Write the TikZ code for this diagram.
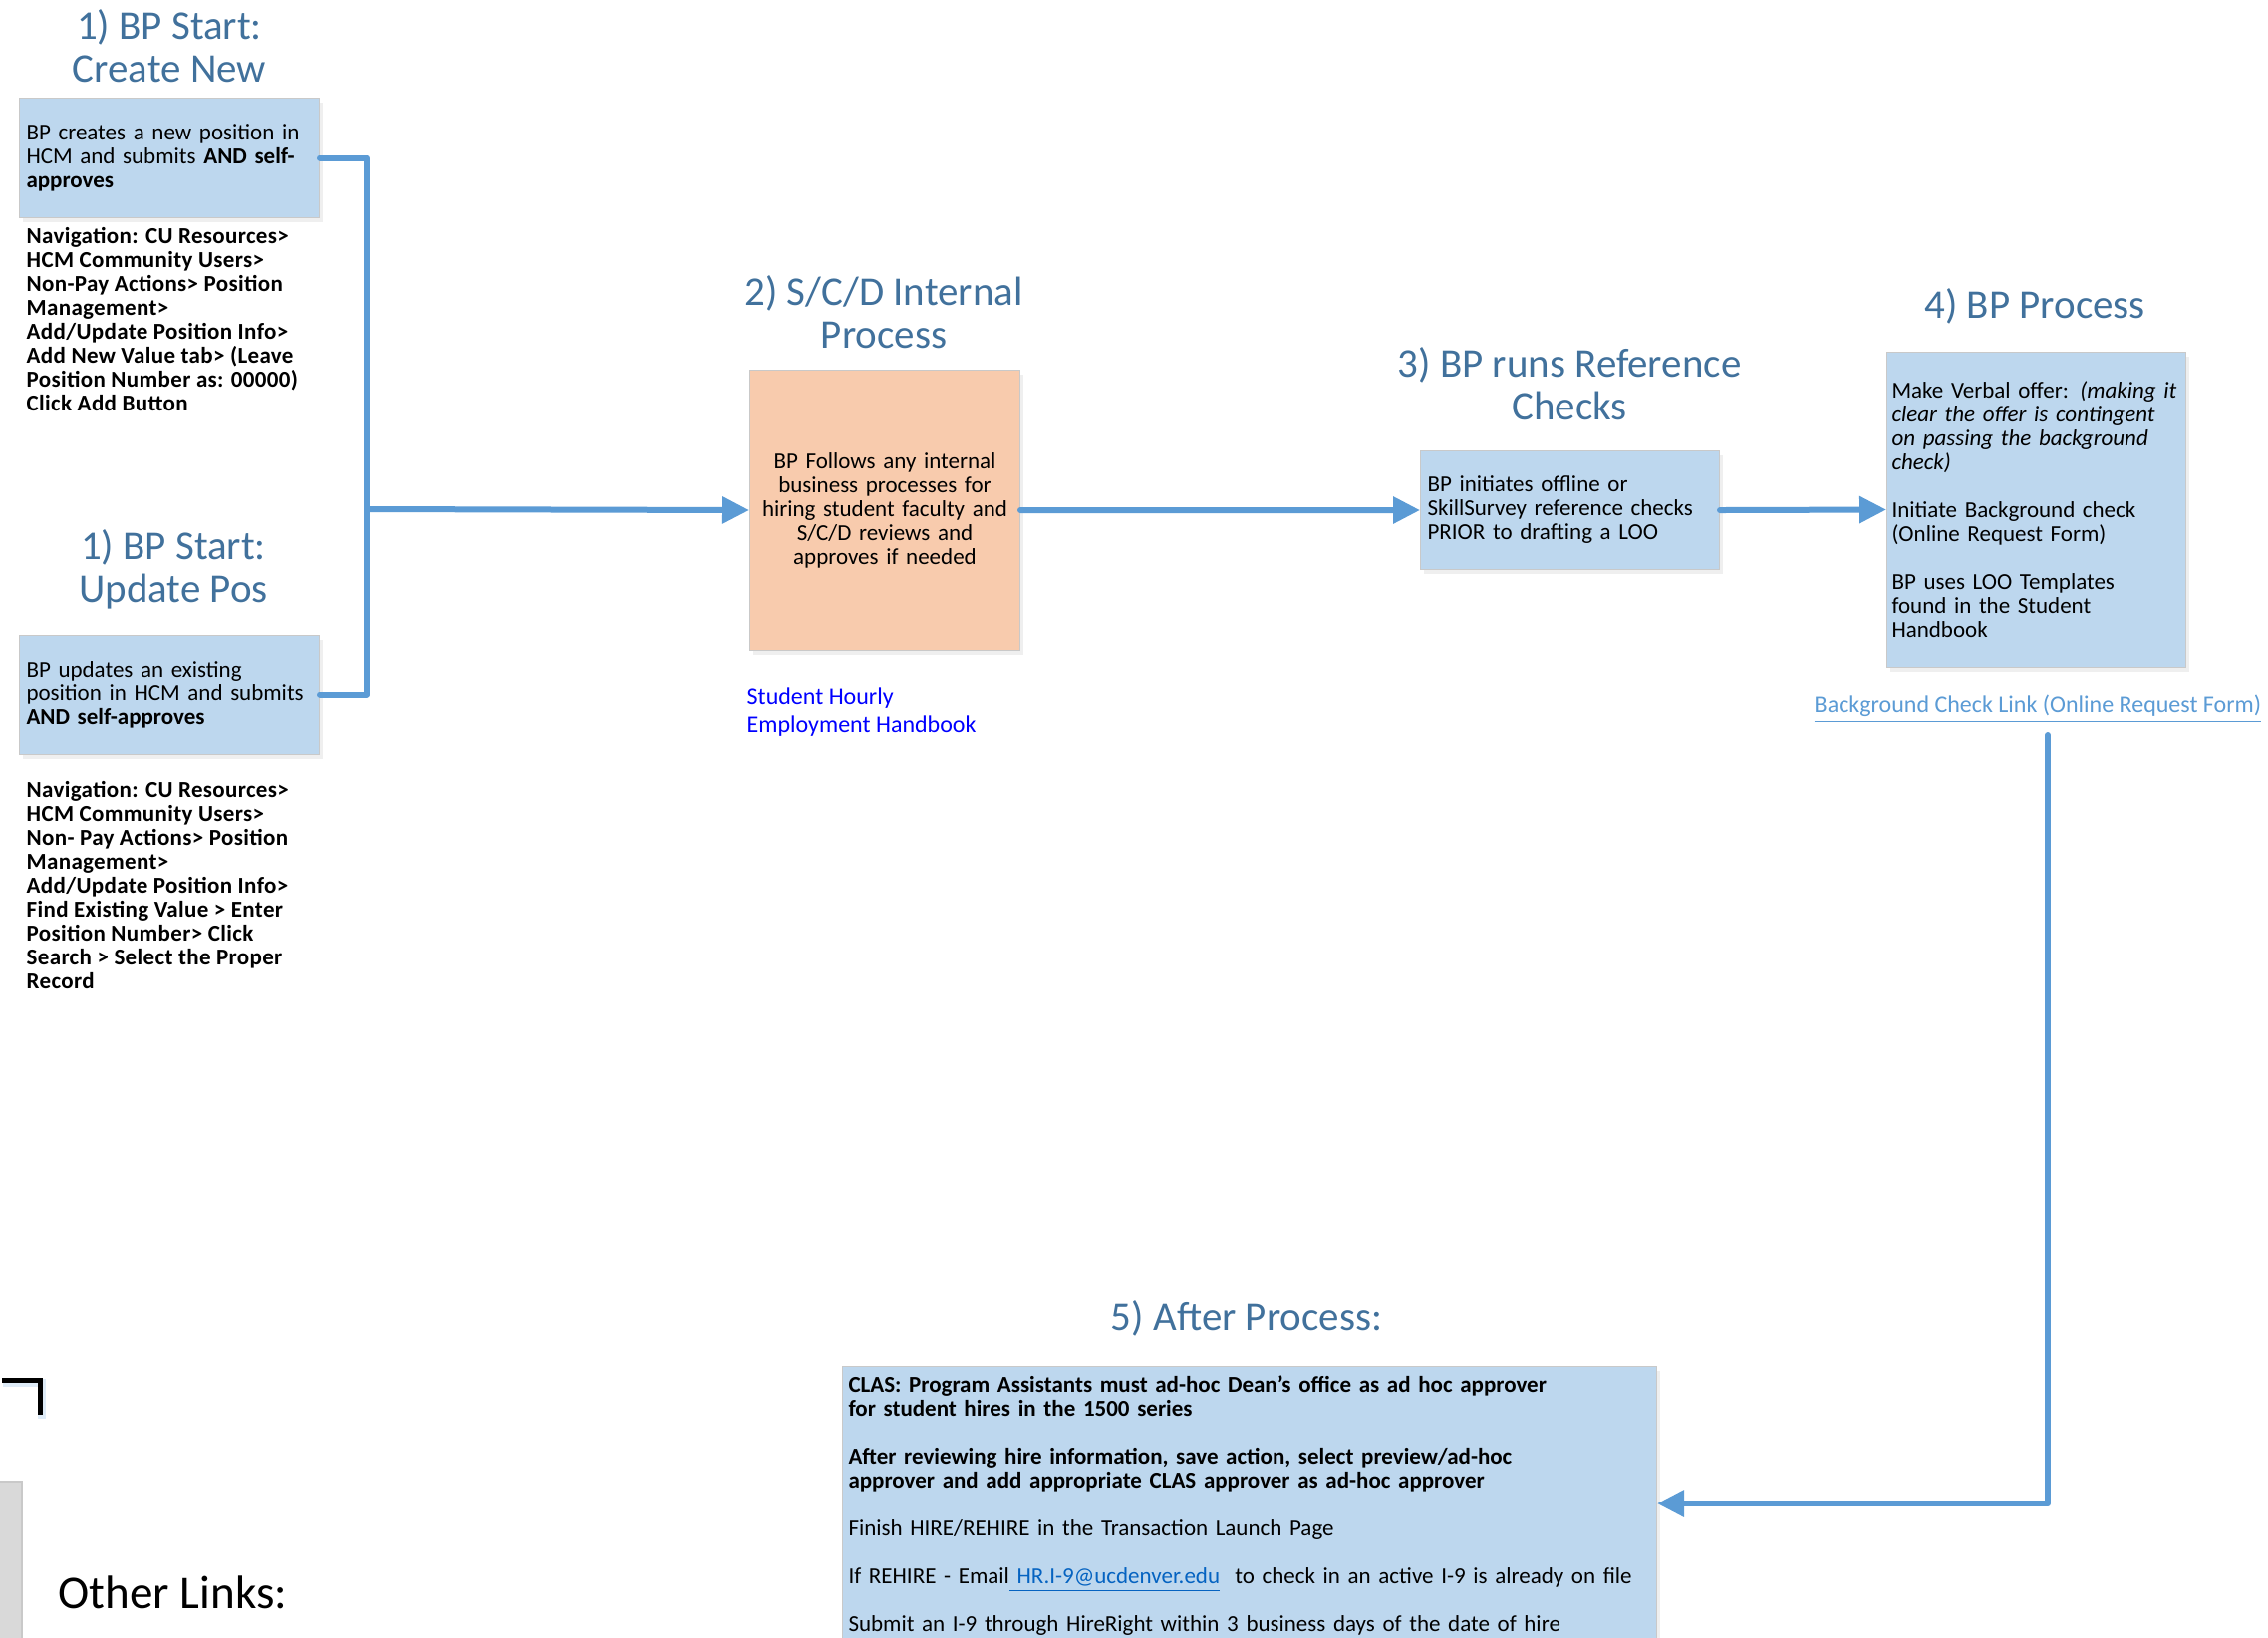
\documentclass[tikz,border=0pt]{standalone}
\usepackage{fontspec}
\setmainfont{Carlito}
\usetikzlibrary{arrows.meta,shadows}

\definecolor{flowblue}{HTML}{5B9BD5}
\definecolor{boxblue}{HTML}{BDD7EE}
\definecolor{boxpeach}{HTML}{F8CBAD}
\definecolor{headblue}{HTML}{41719C}
\definecolor{boxedge}{HTML}{C9C9C9}
\definecolor{maillink}{HTML}{0563C1}
\definecolor{sidegray}{HTML}{D9D9D9}

\newcommand\bodyfont{\fontsize{6.54pt}{6.83pt}\selectfont}
\newcommand\navfont{\bodyfont\bfseries\addfontfeatures{LetterSpace=1.5}}
\newcommand\headfont{\fontsize{11.66pt}{12.23pt}\selectfont}
\newcommand\hourlyfont{\fontsize{6.83pt}{7.97pt}\selectfont}
\newcommand\bglinkfont{\fontsize{6.83pt}{7.97pt}\selectfont}
\newcommand\otherfont{\fontsize{13.4pt}{16pt}\selectfont}

\tikzset{
  head/.style={text=headblue, align=center, font=\headfont, inner sep=0},
  stepbox/.style={draw=boxedge, line width=0.1mm, fill=boxblue, anchor=north west,
    inner sep=0.7mm, align=left, font=\bodyfont,
    drop shadow={shadow xshift=0.3mm, shadow yshift=-0.4mm, opacity=0.12}},
  navtext/.style={anchor=north west, inner sep=0, align=left, font=\navfont},
  conn/.style={draw=flowblue, line width=0.6mm, line cap=round, line join=round},
  arr/.style={conn, -{Triangle[length=2.7mm,width=2.6mm]}}
}

\begin{document}
\begin{tikzpicture}[x=0.1mm,y=-0.1mm]
   \clip (0,0) rectangle (2276,1643);
   \fill[white] (0,0) rectangle (2276,1643);

   \node[head] (head1) at (170,46) {1) BP Start:\\Create New};
   \node[stepbox, text width=28.7mm, minimum height=12mm] (create) at (19,98)
     {BP creates a new position in\\HCM and submits \textbf{AND self-}\\\textbf{approves}};
   \node[navtext] (nav1) at (26,228)
     {Navigation: CU Resources>\\HCM Community Users>\\Non-Pay Actions> Position\\Management>\\
      Add/Update Position Info>\\Add New Value tab> (Leave\\Position Number as: 00000)\\Click Add Button};

   \node[head] (head1b) at (174,571) {1) BP Start:\\Update Pos};
   \node[stepbox, text width=28.7mm, minimum height=12mm] (update) at (19,637)
     {BP updates an existing\\position in HCM and submits\\\textbf{AND self-approves}};
   \node[navtext] (nav2) at (26,784)
     {Navigation: CU Resources>\\HCM Community Users>\\Non- Pay Actions> Position\\Management>\\
      Add/Update Position Info>\\Find Existing Value > Enter\\Position Number> Click\\Search > Select the Proper\\Record};

   \node[head] (head2) at (887,313) {2) S/C/D Internal\\Process};
   \node[stepbox, fill=boxpeach, align=center, text width=25.7mm, minimum height=28.1mm] (internal) at (752,371)
     {BP Follows any internal\\business processes for\\hiring student faculty and\\S/C/D reviews and\\approves if needed};
   \node[anchor=north west, inner sep=0, align=left, font=\hourlyfont, text=blue] (hourly) at (749,690)
     {Student Hourly\\Employment Handbook};

   \node[head] (head3) at (1575,385) {3) BP runs Reference\\Checks};
   \node[stepbox, text width=28.6mm, minimum height=11.9mm] (refcheck) at (1425,452)
     {BP initiates offline or\\SkillSurvey reference checks\\PRIOR to drafting a LOO};

   \node[head] (head4) at (2042,307) {4) BP Process};
   \node[stepbox, inner xsep=0.5mm, text width=29mm, minimum height=31.6mm] (bpproc) at (1893,353)
     {Make Verbal offer: \textit{(making it}\\\textit{clear the offer is contingent}\\
      \textit{on passing the background}\\\textit{check)}\\[2.4mm]
      Initiate Background check\\(Online Request Form)\\[2.4mm]
      BP uses LOO Templates\\found in the Student\\Handbook};
   \node[anchor=west, inner sep=0, font=\bglinkfont, text=flowblue] (bglink) at (1820,712)
     {\underline{Background Check Link (Online Request Form)}};

   \node[head] (head5) at (1251,1323) {5) After Process:};
   \node[stepbox, inner xsep=0.6mm, inner ysep=0.9mm, text width=80.5mm] (after) at (845,1371)
     {\textbf{CLAS: Program Assistants must ad-hoc Dean’s office as ad hoc approver}\\
      \textbf{for student hires in the 1500 series}\\[2.4mm]
      \textbf{After reviewing hire information, save action, select preview/ad-hoc}\\
      \textbf{approver and add appropriate CLAS approver as ad-hoc approver}\\[2.4mm]
      Finish HIRE/REHIRE in the Transaction Launch Page\\[2.4mm]
      If REHIRE - Email\smash{\textcolor{maillink}{\underline{ HR.I-9@ucdenver.edu}}}\ \ to check in an active I-9 is already on file\\[2.4mm]
      Submit an I-9 through HireRight within 3 business days of the date of hire\\[4mm]\mbox{}};

   \coordinate (join) at (368,511);
   \coordinate (drop) at (2055,738);
   \coordinate (bend) at (2055,1509);
   \draw[conn] (create.east) -| (join);
   \draw[conn] (update.east) -| (join);
   \draw[arr] (join) -- (internal.west);
   \draw[arr] (internal.east) -- (refcheck.west);
   \draw[arr] (refcheck.east) -- (bpproc.west);
   \draw[arr] (drop) |- (after.east |- bend);

   \draw[flowblue!20, line width=0.8mm] (3,1388) -- (42,1388) -- (42,1424);
   \draw[black, line width=0.5mm] (2,1385) -- (40,1385) -- (40,1420);
   \draw[fill=sidegray, draw=boxedge] (-5,1487) rectangle (22,1660);
   \node[anchor=west, inner sep=0, font=\otherfont] (otherlinks) at (58,1598) {Other Links:};
\end{tikzpicture}
\end{document}
